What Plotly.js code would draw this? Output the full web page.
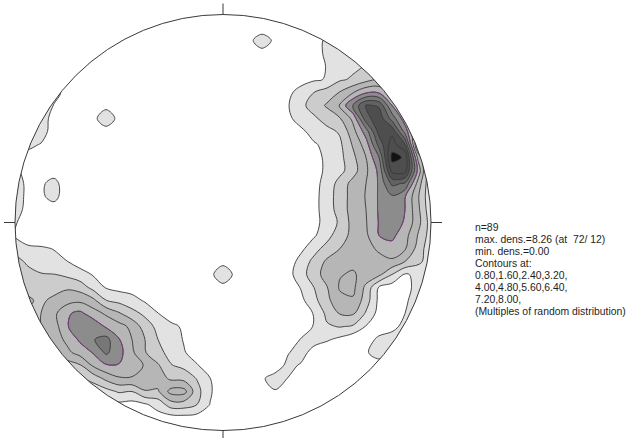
<!DOCTYPE html>
<html>
<head>
<meta charset="utf-8">
<script src="https://cdn.plot.ly/plotly-3.0.1.min.js"></script>
<style>
  html, body { margin: 0; padding: 0; background: #fff; }
  #plot { width: 626px; height: 438px; }
</style>
</head>
<body>
<div id="plot"></div>
<script>
// Pole density on the equal-area net, in multiples of random distribution.
// Grid spacing is 1/16 of the primitive radius; rows run north -> south,
// columns west -> east (x, y from -1 to +1).
const gridStep = 1 / 16;
const densityRows = [
  [0,0,0,0,0,0,0,0,0,0,0, 0,0,0,0,0,0,0,0,0,0,0, 0,0,0,0,0,0,0,0,0,0,0],
  [0,0,0,0,0,0,0,0,0,0,0, 0,0,0,0,0,0,0,0,0,0,0, 0,0,0,0,0,0,0,0,0,0,0],
  [0,0,0,0,0,0,0,0,0,0,0, 0,0,0,0,0,0,0,0.45,1.55,0.5,0, 0,0.35,1.0,1.0,1.2,0,0,0,0,0,0],
  [0,0,0,0,0,0,0,0,0,0,0, 0,0,0,0,0,0,0,0,0.3,0,0, 0.1,0.5,0.95,1.2,1.35,1.5,0,0,0,0,0],
  [0,0,0,0,0,0,0,0,0,0,0, 0,0,0,0,0,0,0,0,0,0,0, 0,0.4,0.85,1.25,1.45,1.65,1.8,0,0,0,0],
  [0,0,0,0.6,0.6,0.2,0,0,0,0,0, 0,0,0,0,0,0,0,0,0,0,0, 0.55,0.7,0.85,1.5,1.7,2.1,2.4,2.0,0,0,0],
  [1.0,1.0,1.0,1.0,0.6,0,0,0,0,0,0, 0,0,0,0,0,0,0,0,0,0.2,0.65, 1.05,1.6,2.0,2.45,3.15,3.9,3.9,3.0,2.0,0,0],
  [1.0,1.0,1.0,0.78,0,0,0,0.45,0,0,0, 0,0,0,0,0,0,0,0,0,0.3,0.75, 1.37,1.98,2.5,3.3,4.9,6.5,6.3,4.0,2.0,0,0],
  [1.0,1.0,1.2,0.5,0,0,0.45,1.55,0.45,0,0, 0,0,0,0,0,0,0,0,0,0.15,0.6, 1.2,1.45,1.95,2.35,3.4,6.1,6.9,5.3,3.5,1.5,0],
  [1.0,1.2,1.2,0.4,0,0,0,0.3,0,0,0, 0,0,0,0,0,0,0,0,0,0,0.2, 0.6,1.15,1.35,1.7,2.9,4.4,6.7,7.0,4.5,2.0,0.5],
  [1.0,1.0,0.75,0.2,0,0,0,0,0,0,0, 0,0,0,0,0,0,0,0,0,0,0, 0.3,0.7,1.05,1.45,2.5,3.6,5.9,7.6,6.4,1.2,0.3],
  [0.6,0.5,0,0,0,0,0,0,0,0,0, 0,0,0,0,0,0,0,0,0,0,0, 0,0.55,0.95,1.37,2.2,3.2,4.8,8.26,7.9,3.0,0.5],
  [0.9,0.6,0,0.2,0,0,0,0,0,0,0, 0,0,0,0,0,0,0,0,0,0,0, 0,0.5,0.95,1.35,2.05,3.05,4.2,7.5,7.6,3.8,0.5],
  [1.2,0.6,0.6,1.2,0.1,0,0,0,0,0,0, 0,0,0,0,0,0,0,0,0,0,0, 0,0.55,1.09,1.92,2.68,3.2,4.1,5.8,5.5,2.9,0.8],
  [1.3,0.55,0.6,1.2,0.1,0,0,0,0,0,0, 0,0,0,0,0,0,0,0,0,0,0, 0,0.55,1.2,2.0,2.7,3.25,4.1,4.7,4.05,2.5,0.9],
  [1.2,0.5,0,0.2,0,0,0,0,0,0,0, 0,0,0,0,0,0,0,0,0,0,0, 0,0.55,1.2,1.95,2.75,3.2,4.1,4.5,4.0,2.6,1.0],
  [0.9,0.3,0,0,0,0,0,0,0,0,0, 0,0,0,0,0,0,0,0,0,0,0, 0,0.6,1.05,1.75,2.7,3.15,4.05,4.5,3.9,2.7,1.2],
  [0.7,0.3,0,0,0,0,0,0,0,0,0, 0,0,0,0,0,0,0,0,0,0,0, 0.25,0.7,1.3,2.1,2.6,3.05,4.0,4.2,3.5,2.35,1.2],
  [1.3,0.97,0.95,0.75,0.35,0.05,0,0,0,0,0, 0,0,0,0,0,0,0,0,0,0,0, 0.6,1.3,1.9,2.4,2.8,3.0,3.3,3.7,3.3,2.1,1.0],
  [1.9,1.45,1.29,1.15,0.82,0.45,0.15,0,0,0,0, 0,0,0,0,0,0.45,0,0,0,0,0.33, 1.12,1.83,2.55,2.9,3.0,2.9,3.0,3.05,2.4,1.8,1.2],
  [2.3,1.86,1.64,1.62,1.42,1.11,0.75,0.45,0.25,0.05,0, 0,0,0,0,0.5,1.55,0.5,0,0,0,0.49, 1.3,2.0,2.8,3.15,3.3,2.9,2.6,1.6,0.7,1.0,1.0],
  [2.6,2.24,1.96,2.11,2.29,2.05,1.34,0.75,0.55,0.45,0.2, 0,0,0,0,0,0.45,0,0,0,0,0.3, 0.85,1.6,2.35,3.3,3.4,2.2,0.7,0.4,0.6,1.0,1.0],
  [2.8,2.5,2.27,2.58,2.88,3.03,2.63,1.62,1.37,1.11,0.7, 0.4,0.1,0,0,0,0,0,0,0,0,0, 0.6,1.35,2.2,2.95,3.1,2.0,0.6,0.3,0.7,1.1,1.0],
  [2.2,2.3,2.4,3.0,3.9,4.2,3.6,3.07,2.5,1.88,1.43, 0.82,0.45,0.15,0,0,0,0,0,0,0,0, 0.3,0.85,1.8,2.45,2.5,1.5,0.5,0.3,0.8,1.0,1.0],
  [2.2,2.2,2.4,2.8,3.95,4.4,4.6,3.9,3.5,3.0,2.0, 1.38,0.96,0.7,0.3,0.05,0,0,0,0,0,0, 0.4,0.85,1.5,1.65,1.5,0.75,0.3,0.6,1.0,1.0,1.0],
  [2.0,2.0,2.2,2.8,3.38,4.15,4.75,5.1,4.05,3.2,2.4, 1.6,1.16,0.75,0.35,0.05,0,0,0,0,0,0.2, 0.85,1.1,0.9,0.6,0.2,0.4,1.0,1.1,0.8,0.8,0.8],
  [2.0,2.0,2.2,2.6,3.0,3.53,4.05,4.95,4.3,3.35,2.45, 1.85,1.31,0.85,0.5,0.15,0,0,0,0,0.3,0.75, 1.1,0.5,0.2,0,0,0.7,1.2,0.9,0.5,0,0],
  [1.8,1.8,1.8,1.8,2.0,2.3,3.3,3.9,3.95,3.5,3.15, 2.5,1.65,1.38,0.85,0.45,0.1,0,0,0,0.4,1.0, 0.72,0.2,0,0,0,0.5,0.4,0,0,0,0],
  [1.2,1.2,1.2,1.2,1.2,1.5,1.9,2.6,3.1,3.15,2.9, 2.8,2.25,2.15,1.55,0.82,0.3,0,0,0.7,1.1,0.78, 0,0,0,0,0,0,0,0,0,0,0],
  [1.0,1.0,1.0,1.0,1.0,1.0,1.0,1.3,1.7,1.6,2.35, 2.3,3.5,3.5,1.9,0.9,0.3,0,0,0.5,0.75,0.4, 0,0,0,0,0,0,0,0,0,0,0],
  [0.6,0.6,0.6,0.6,0.6,0.6,0.6,0.6,0.6,0.5,0.7, 1.1,2.0,2.0,1.6,0.78,0.2,0,0,0,0.2,0, 0,0,0,0,0,0,0,0,0,0,0],
  [0,0,0,0,0,0,0,0,0,0.3,0.4, 0.5,0.5,0.55,0.5,0.3,0,0,0,0,0,0, 0,0,0,0,0,0,0,0,0,0,0],
  [0,0,0,0,0,0,0,0,0,0,0, 0,0,0,0,0,0,0,0,0,0,0, 0,0,0,0,0,0,0,0,0,0,0]
];

// Contour levels and the one drawn in colour
const contourStart = 0.8;
const contourEnd = 8.0;
const contourSize = 0.8;
const highlightLevel = 4.0;

// Fill for each band: below 0.80, 0.80-1.60, ..., above 8.00
const bandColors = ['#ffffff', '#e2e2e2', '#cccccc', '#b6b6b6', '#a1a1a1', '#8c8c8c',
                    '#777777', '#626262', '#4e4e4e', '#393939', '#121212'];

const infoLines = [
  'n=89',
  'max. dens.=8.26 (at\u00a0 72/ 12)',
  'min. dens.=0.00',
  'Contours at:',
  '0.80,1.60,2.40,3.20,',
  '4.00,4.80,5.60,6.40,',
  '7.20,8.00,',
  '(Multiples of random distribution)'
];

// ---- geometry of the page ----
const W = 626, H = 438;
const CX = 223, CY = 222.5, RPX = 208;       // primitive centre and radius, px

const nCols = densityRows[0].length;
const gridX = Array.from({ length: nCols }, (_, i) => -1 + i * gridStep);
const gridY = gridX.slice();                  // south -> north
const gridZ = densityRows.slice().reverse();  // match gridY order

// stepped colour scale: band k is sampled at (k + 0.5) / 10 of the range
const colorscale = [];
bandColors.forEach((c, k) => {
  const lo = k === 0 ? 0 : (k < 10 ? k / 10 : 0.975);
  const hi = k < 9 ? (k + 1) / 10 : (k === 9 ? 0.975 : 1);
  colorscale.push([lo, c], [hi, c]);
});

const densityTrace = {
  type: 'contour',
  x: gridX, y: gridY, z: gridZ,
  autocontour: false,
  contours: { start: contourStart, end: contourEnd, size: contourSize,
              coloring: 'fill', showlines: true },
  colorscale: colorscale,
  showscale: false,
  line: { color: '#383838', width: 0.9, smoothing: 1 },
  hoverinfo: 'skip'
};

const highlightTrace = {
  type: 'contour',
  x: gridX, y: gridY, z: gridZ,
  autocontour: false,
  contours: { start: highlightLevel, end: highlightLevel, size: contourSize,
              coloring: 'none', showlines: true },
  showscale: false,
  line: { color: '#7a3f7e', width: 0.9, smoothing: 1 },
  hoverinfo: 'skip'
};

// white mask outside the primitive (even-odd hole)
let ring = '';
for (let a = 0; a <= 360; a += 2) {
  const t = a * Math.PI / 180;
  ring += (a === 0 ? 'M' : 'L') + Math.cos(t).toFixed(5) + ',' + Math.sin(t).toFixed(5) + ' ';
}
const maskPath = 'M-3,-3 L3,-3 L3,3 L-3,3 Z ' + ring + 'Z';

const tickLen = 11 / RPX;
const edgeColor = '#3a3a3a';
const shapes = [
  { type: 'path', xref: 'x', yref: 'y', path: maskPath, fillcolor: '#ffffff',
    fillrule: 'evenodd', line: { width: 0 }, layer: 'above' },
  { type: 'circle', xref: 'x', yref: 'y', x0: -1, y0: -1, x1: 1, y1: 1,
    line: { color: edgeColor, width: 1 }, layer: 'above' },
  { type: 'line', xref: 'x', yref: 'y', x0: 0, x1: 0, y0: 1, y1: 1 + tickLen,
    line: { color: edgeColor, width: 1 }, layer: 'above' },
  { type: 'line', xref: 'x', yref: 'y', x0: 0, x1: 0, y0: -1, y1: -1 - tickLen,
    line: { color: edgeColor, width: 1 }, layer: 'above' },
  { type: 'line', xref: 'x', yref: 'y', x0: -1, x1: -1 - tickLen, y0: 0, y1: 0,
    line: { color: edgeColor, width: 1 }, layer: 'above' },
  { type: 'line', xref: 'x', yref: 'y', x0: 1, x1: 1 + tickLen, y0: 0, y1: 0,
    line: { color: edgeColor, width: 1 }, layer: 'above' }
];

const textTop = 227, textStep = 12.1, textLeft = 474;
const annotations = infoLines.map((s, i) => ({
  text: s, xref: 'paper', yref: 'paper',
  x: textLeft / W, y: 1 - (textTop + i * textStep) / H,
  xanchor: 'left', yanchor: 'middle', showarrow: false, borderpad: 0,
  font: { family: 'Liberation Sans, Arial, sans-serif', size: 10.4, color: '#1e1e1e' }
}));

const layout = {
  width: W, height: H, autosize: false,
  margin: { l: 0, r: 0, t: 0, b: 0, pad: 0 },
  paper_bgcolor: '#ffffff', plot_bgcolor: '#ffffff',
  showlegend: false,
  xaxis: { range: [-CX / RPX, (W - CX) / RPX], visible: false, fixedrange: true },
  yaxis: { range: [(CY - H) / RPX, CY / RPX], visible: false, fixedrange: true },
  shapes: shapes,
  annotations: annotations
};

Plotly.newPlot('plot', [densityTrace, highlightTrace], layout,
               { staticPlot: true, displayModeBar: false });
</script>
</body>
</html>
